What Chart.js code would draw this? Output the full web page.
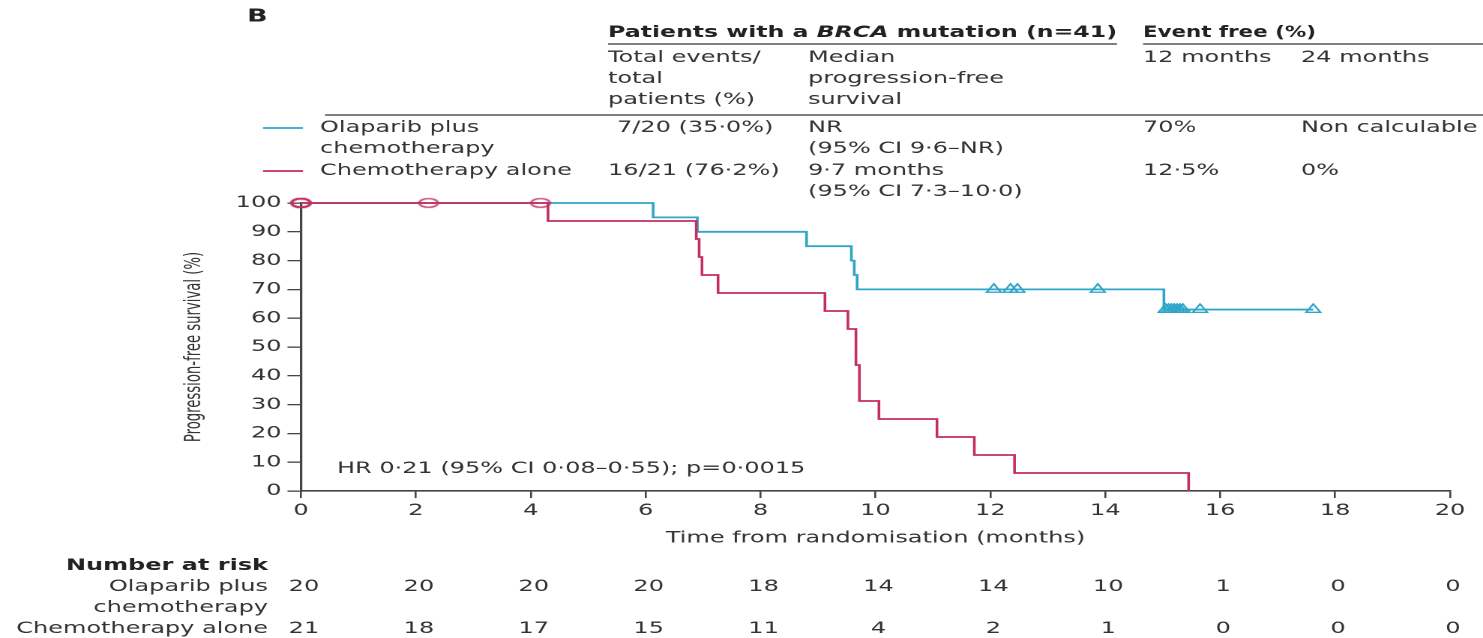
<!DOCTYPE html>
<html>
<head>
<meta charset="utf-8">
<script src="https://cdn.jsdelivr.net/npm/chart.js@4.4.1/dist/chart.umd.min.js"></script>
<style>
  html, body { margin: 0; padding: 0; background: #fff; overflow: hidden; }
  #wrap { width: 989px; height: 638px; transform: scaleX(1.4995); transform-origin: 0 0; }
</style>
</head>
<body>
<div id="wrap"><canvas id="km" width="989" height="638"></canvas></div>
<script>
// x axis ticks (months) and number-at-risk columns
const months = [0, 2, 4, 6, 8, 10, 12, 14, 16, 18, 20];
const pfsTicks = [0, 10, 20, 30, 40, 50, 60, 70, 80, 90, 100];

// Olaparib plus chemotherapy
const olaparibTime = [0, 6.13, 6.9, 8.8, 9.58, 9.63, 9.68, 15.02, 17.62];
const olaparibPfs = [100, 95, 90, 85, 80, 75, 70, 63, 63];
const olaparibCensorTime = [12.06, 12.35, 12.47, 13.87, 15.05, 15.1, 15.15, 15.2, 15.25, 15.3, 15.35, 15.65, 17.62];
const olaparibCensorPfs = [70, 70, 70, 70, 63, 63, 63, 63, 63, 63, 63, 63, 63];
const olaparibAtRisk = [20, 20, 20, 20, 18, 14, 14, 10, 1, 0, 0];

// Chemotherapy alone
const chemoTime = [0, 4.3, 6.88, 6.93, 6.98, 7.26, 9.12, 9.52, 9.66, 9.72, 10.06, 11.07, 11.72, 12.42, 15.45];
const chemoPfs = [100, 93.75, 87.5, 81.25, 75, 68.75, 62.5, 56.25, 43.75, 31.25, 25, 18.75, 12.5, 6.25, 0];
const chemoCensorTime = [0, 0, 0, 2.22, 4.17];
const chemoCensorPfs = [100, 100, 100, 100, 100];
const chemoAtRisk = [21, 18, 17, 15, 11, 4, 2, 1, 0, 0, 0];

const TEAL = '#2fa6c8';
const RED = '#c42e62';
const TEXT = '#333';
const FONT = "'DejaVu Sans', sans-serif";
const SX = 1483 / 989;   // the figure is stretched sideways

const pts = (xs, ys) => xs.map((t, i) => ({ x: t, y: ys[i] }));

// open ellipse used as the censor mark of the chemotherapy arm
const ring = document.createElement('canvas');
ring.width = 16; ring.height = 12;
(function () {
  const c = ring.getContext('2d');
  c.strokeStyle = RED;
  c.lineWidth = 1.4;
  c.beginPath();
  c.ellipse(8, 6, 6.3, 4.4, 0, 0, Math.PI * 2);
  c.stroke();
})();

const textPlugin = {
  id: 'textPlugin',
  afterDraw(chart) {
    const ctx = chart.ctx;
    const xs = chart.scales.x;
    const X = v => v / SX;
    ctx.save();
    ctx.textBaseline = 'middle';

    const put = (str, rx, ry, opt = {}) => {
      ctx.font = opt.font || '16px ' + FONT;
      ctx.fillStyle = opt.color || TEXT;
      ctx.textAlign = opt.align || 'left';
      ctx.fillText(str, typeof rx === 'number' && !opt.raw ? X(rx) : rx, ry);
    };
    const rule = (x1, x2, y, color, w) => {
      ctx.strokeStyle = color || '#555';
      ctx.lineWidth = w || 1.5;
      ctx.beginPath();
      ctx.moveTo(X(x1), y);
      ctx.lineTo(X(x2), y);
      ctx.stroke();
    };

    put('B', 247, 17, { font: 'bold 18px ' + FONT, color: '#222' });

    // bold header with italic BRCA, squeezed into its column
    const parts = [
      ['Patients with a ', 'bold 16px ' + FONT],
      ['BRCA', 'italic bold 16px ' + FONT],
      [' mutation (n=41)', 'bold 16px ' + FONT]
    ];
    let total = 0;
    parts.forEach(p => { ctx.font = p[1]; total += ctx.measureText(p[0]).width; });
    const target = X(1117 - 608);
    const sc = Math.min(1, target / total);
    ctx.save();
    ctx.translate(X(608), 33);
    ctx.scale(sc, 1);
    let cx = 0;
    ctx.fillStyle = '#222';
    ctx.textAlign = 'left';
    parts.forEach(p => { ctx.font = p[1]; ctx.fillText(p[0], cx, 0); cx += ctx.measureText(p[0]).width; });
    ctx.restore();

    ctx.save();
    ctx.font = 'bold 16px ' + FONT;
    const ew = ctx.measureText('Event free (%)').width;
    ctx.translate(X(1143), 33);
    ctx.scale(Math.min(1, X(173) / ew), 1);
    ctx.fillStyle = '#222';
    ctx.textAlign = 'left';
    ctx.fillText('Event free (%)', 0, 0);
    ctx.restore();

    rule(608, 1117, 44);
    rule(1143, 1483, 44);

    put('Total events/', 608, 58);
    put('total', 608, 79);
    put('patients (%)', 608, 100);
    put('Median', 808, 58);
    put('progression-free', 808, 79);
    put('survival', 808, 100);
    put('12 months', 1143, 58);
    put('24 months', 1301, 58);

    rule(325, 1483, 115);

    rule(263, 303, 128, TEAL, 1.8);
    rule(263, 303, 171, RED, 1.8);
    put('Olaparib plus', 320, 128);
    put('chemotherapy', 320, 149);
    put('Chemotherapy alone', 320, 171);

    put('7/20 (35·0%)', 617, 128);
    put('16/21 (76·2%)', 608, 171);
    put('NR', 808, 128);
    put('(95% CI 9·6–NR)', 808, 149);
    put('9·7 months', 808, 171);
    put('(95% CI 7·3–10·0)', 808, 192);
    put('70%', 1143, 128);
    put('Non calculable', 1301, 128);
    put('12·5%', 1143, 171);
    put('0%', 1301, 171);

    put('HR 0·21 (95% CI 0·08–0·55); p=0·0015', 337, 469);

    // number at risk
    put('Number at risk', 268, 566, { align: 'right', font: 'bold 16px ' + FONT, color: '#222' });
    put('Olaparib plus', 268, 587, { align: 'right' });
    put('chemotherapy', 268, 608, { align: 'right' });
    put('Chemotherapy alone', 268, 629, { align: 'right' });
    months.forEach((m, i) => {
      const px = xs.getPixelForValue(m) + 2;
      put(String(olaparibAtRisk[i]), px, 587, { align: 'center', raw: true });
      put(String(chemoAtRisk[i]), px, 629, { align: 'center', raw: true });
    });
    ctx.restore();
  }
};

new Chart(document.getElementById('km'), {
  type: 'scatter',
  data: {
    datasets: [
      {
        label: 'Chemotherapy alone',
        data: pts(chemoTime, chemoPfs),
        showLine: true,
        stepped: 'before',
        borderColor: RED,
        borderWidth: 1.8,
        pointRadius: 0,
        clip: false
      },
      {
        label: 'Chemotherapy alone censored',
        data: pts(chemoCensorTime, chemoCensorPfs),
        showLine: false,
        pointStyle: ring,
        pointRadius: 6,
        clip: false
      },
      {
        label: 'Olaparib plus chemotherapy',
        data: pts(olaparibTime, olaparibPfs),
        showLine: true,
        stepped: 'before',
        borderColor: TEAL,
        borderWidth: 1.8,
        pointRadius: 0,
        clip: false
      },
      {
        label: 'Olaparib plus chemotherapy censored',
        data: pts(olaparibCensorTime, olaparibCensorPfs),
        showLine: false,
        pointStyle: 'triangle',
        pointRadius: 5.5,
        borderColor: TEAL,
        backgroundColor: 'rgba(255,255,255,0)',
        borderWidth: 1.4,
        clip: false
      }
    ]
  },
  options: {
    responsive: false,
    animation: false,
    devicePixelRatio: 2,
    layout: { padding: { top: 203, right: 22, bottom: 0, left: 0 } },
    plugins: { legend: { display: false }, tooltip: { enabled: false } },
    scales: {
      x: {
        type: 'linear',
        min: 0,
        max: 20,
        afterBuildTicks: s => { s.ticks = months.map(v => ({ value: v })); },
        afterFit: s => { s.height = 147; },
        ticks: { font: { family: FONT, size: 16 }, color: TEXT, padding: 3, maxRotation: 0, autoSkip: false },
        grid: { drawOnChartArea: false, drawTicks: true, tickLength: 7, color: '#444', lineWidth: 1.3 },
        border: { color: '#444', width: 1.6 },
        title: {
          display: true,
          text: 'Time from randomisation (months)',
          font: { family: FONT, size: 16 },
          color: TEXT,
          padding: { top: 0, bottom: 90 }
        }
      },
      y: {
        type: 'linear',
        min: 0,
        max: 100,
        afterBuildTicks: s => { s.ticks = pfsTicks.map(v => ({ value: v })); },
        afterFit: s => { s.width = 200.7; },
        ticks: { font: { family: FONT, size: 16 }, color: TEXT, padding: 4 },
        grid: { drawOnChartArea: false, drawTicks: true, tickLength: 9, color: '#444', lineWidth: 1.3 },
        border: { color: '#444', width: 1.6 },
        title: {
          display: true,
          text: 'Progression-free survival (%)',
          font: { family: "'DejaVu Sans Condensed', 'DejaVu Sans', sans-serif", size: 14.7 },
          color: TEXT,
          padding: { top: 121, bottom: 0 }
        }
      }
    }
  },
  plugins: [textPlugin]
});
</script>
</body>
</html>
